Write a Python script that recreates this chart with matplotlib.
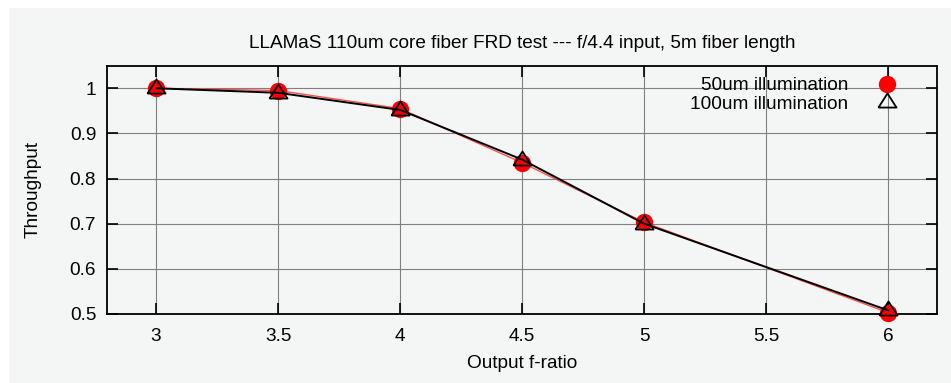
import matplotlib
matplotlib.use("Agg")
import matplotlib.pyplot as plt
from matplotlib.patches import Rectangle

plt.rcParams['font.family'] = ['Liberation Sans', 'DejaVu Sans']

# Data
fratio_50 = [3.0, 3.5, 4.0, 4.5, 5.0, 6.0]
throughput_50 = [1.000, 0.995, 0.955, 0.835, 0.703, 0.503]
fratio_100 = [3.0, 3.5, 4.0, 4.5, 5.0, 6.0]
throughput_100 = [1.000, 0.990, 0.952, 0.842, 0.700, 0.508]
xticks = [3, 3.5, 4, 4.5, 5, 5.5, 6]
xticklabels = ['3', '3.5', '4', '4.5', '5', '5.5', '6']
yticks = [0.5, 0.6, 0.7, 0.8, 0.9, 1.0]
yticklabels = ['0.5', '0.6', '0.7', '0.8', '0.9', '1']
title = "LLAMaS 110um core fiber FRD test --- f/4.4 input, 5m fiber length"
label_50 = "50um illumination"
label_100 = "100um illumination"

BG = '#f4f5f5'
FS = 13.7
W, H = 951, 383
fig = plt.figure(figsize=(W / 100, H / 100), dpi=100, facecolor='white')
fig.patches.append(Rectangle((9 / W, 0), 1 - 9 / W, 1 - 8 / H, transform=fig.transFigure,
                             facecolor=BG, edgecolor='none', zorder=-10))

ax = fig.add_axes([107.3 / W, 1 - 314 / H, (937 - 107.3) / W, (314 - 65.7) / H])
ax.set_zorder(5)
ax.set_facecolor(BG)
ax.set_xlim(2.8, 6.2)
ax.set_ylim(0.5, 1.05)
ax.set_xticks(xticks)
ax.set_xticklabels(xticklabels)
ax.set_yticks(yticks)
ax.set_yticklabels(yticklabels)
ax.tick_params(direction='in', length=8, width=1.2, top=True, right=True,
               labelsize=FS, pad=8, colors='black')
ax.tick_params(axis='x', pad=10)
ax.grid(True, color='#808080', linewidth=0.8)
for s in ax.spines.values():
    s.set_linewidth(1.3)
    s.set_color('black')

tri = [(-1, -0.56), (1, -0.56), (0, 1.0), (-1, -0.56)]

ax.plot(fratio_50, throughput_50, color='#ff5050', linewidth=1.0, zorder=3, clip_on=False)
ax.plot(fratio_50, throughput_50, linestyle='none', marker='o', markersize=12.5,
        markerfacecolor='#ff0000', markeredgecolor='none', zorder=4, clip_on=False)
ax.plot(fratio_100, throughput_100, color='black', linewidth=1.4, zorder=5, clip_on=False)
ax.plot(fratio_100, throughput_100, linestyle='none', marker=tri, markersize=13,
        markerfacecolor='none', markeredgecolor='black', markeredgewidth=1.3,
        zorder=6, clip_on=False)

# Legend (manual, gnuplot-style key)
h1, = ax.plot([], [], linestyle='none', marker='o', markersize=12.5,
              markerfacecolor='#ff0000', markeredgecolor='none')
h2, = ax.plot([], [], linestyle='none', marker=tri, markersize=13,
              markerfacecolor='none', markeredgecolor='black', markeredgewidth=1.3)
leg = ax.legend([h1, h2], [label_50, label_100], loc='upper right',
                bbox_to_anchor=(898 / W, 1 - 77 / H), bbox_transform=fig.transFigure,
                frameon=False, fontsize=FS, markerfirst=False, handlelength=1.2,
                handletextpad=1.4, labelspacing=0.06, borderpad=0, borderaxespad=0)
for t in leg.get_texts():
    t.set_ha('right')

ax.set_title(title, fontsize=FS, pad=13)
ax.set_xlabel("Output f-ratio", fontsize=FS, labelpad=7)
ax.set_ylabel("Throughput", fontsize=FS, labelpad=20)

fig.savefig('out.png', dpi=100, facecolor='white')
